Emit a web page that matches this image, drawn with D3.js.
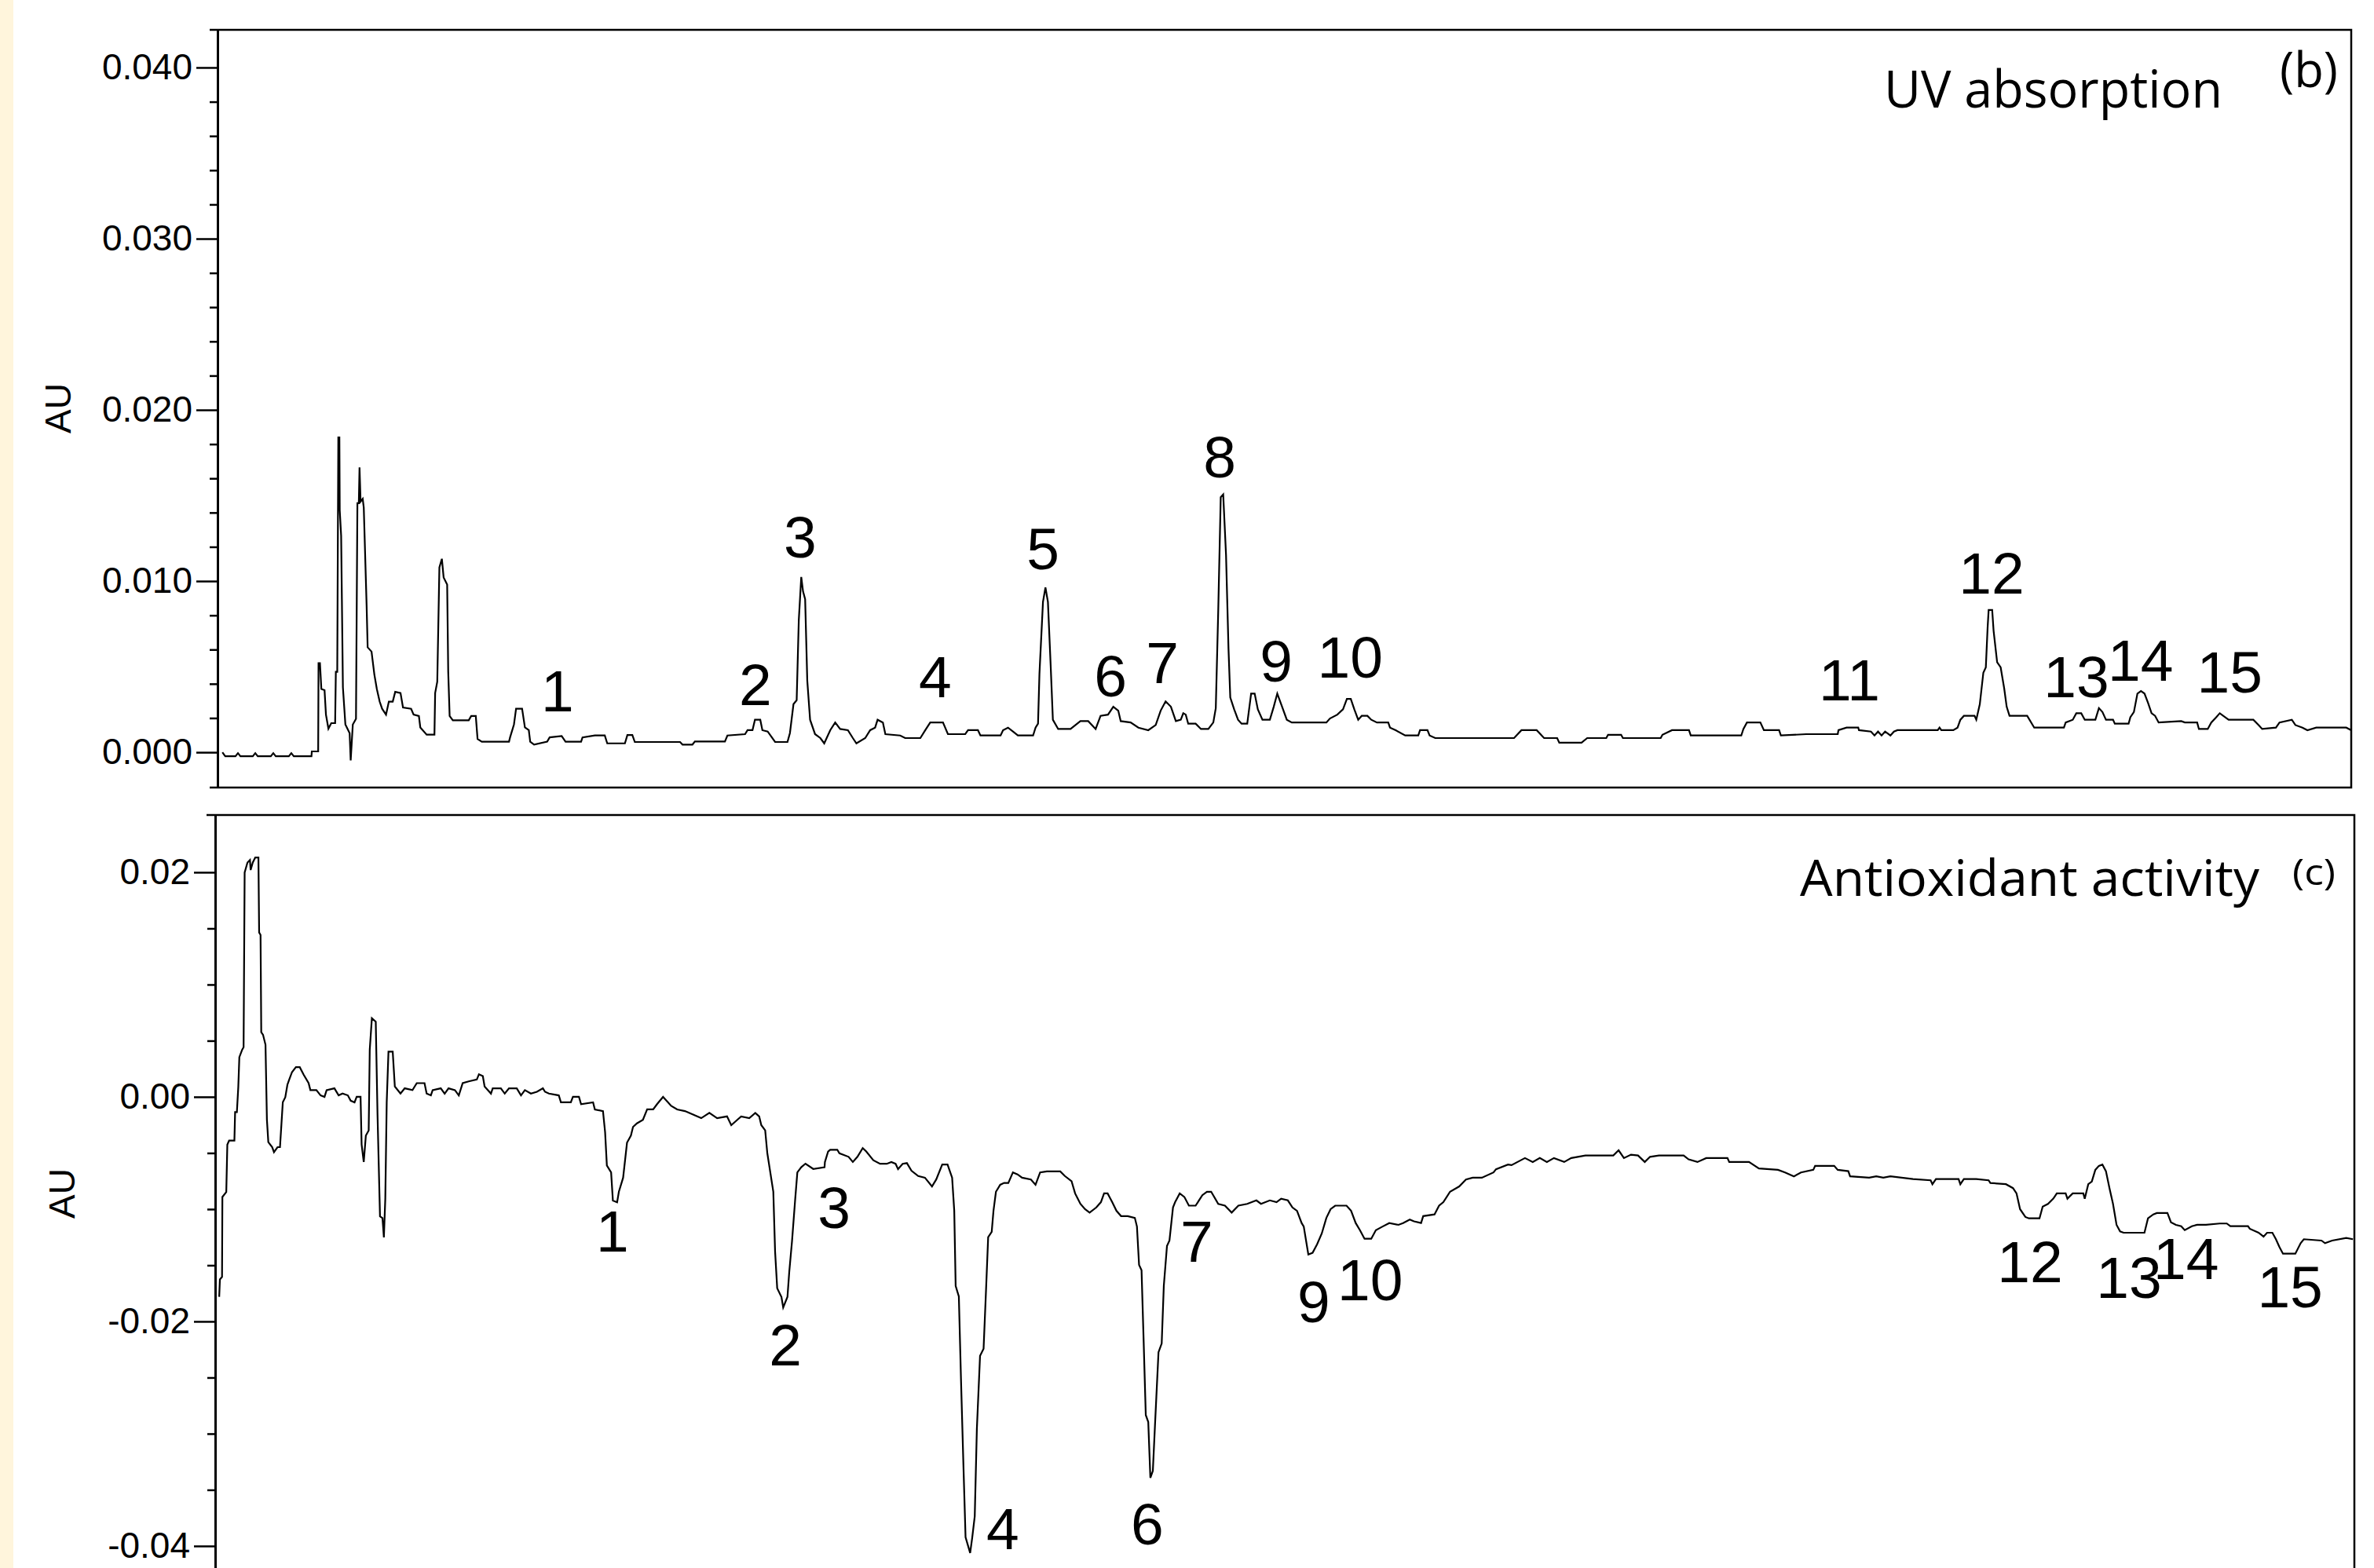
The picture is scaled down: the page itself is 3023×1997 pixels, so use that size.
<!DOCTYPE html>
<html>
<head>
<meta charset="utf-8">
<script src="https://cdn.jsdelivr.net/npm/d3@7"></script>
<style>
  body { margin: 0; background: #fff; }
  svg { display: block; }
</style>
</head>
<body>
<div id="chart"></div>
<script>
/* global d3 */

// retention time (min), absorbance (AU)
const uvTrace = [
  [0.16,0.0000],[0.24,-0.00023],[0.53,-0.00023],[0.60,-0.00005],[0.67,-0.00023],[1.02,-0.00023],[1.09,-0.00005],[1.16,-0.00023],
  [1.53,-0.00023],[1.60,-0.00005],[1.67,-0.00023],[2.04,-0.00023],[2.11,-0.00005],[2.18,-0.00023],[2.68,-0.00023],[2.69,0.00005],
  [2.87,0.00005],[2.88,0.00521],[2.92,0.00521],[2.96,0.00370],[3.05,0.00363],[3.09,0.00220],[3.16,0.00138],[3.24,0.00170],
  [3.35,0.00170],[3.37,0.00470],[3.41,0.00470],[3.44,0.01839],[3.47,0.01839],[3.48,0.01414],[3.52,0.01264],[3.57,0.00379],
  [3.64,0.00162],[3.76,0.00112],[3.79,-0.00047],[3.85,0.00162],[3.94,0.00195],[3.98,0.01455],[4.02,0.01455],[4.04,0.01664],
  [4.07,0.01464],[4.13,0.01480],[4.16,0.01430],[4.24,0.00863],[4.27,0.00613],[4.38,0.00588],[4.46,0.00454],[4.53,0.00370],
  [4.61,0.00296],[4.68,0.00254],[4.79,0.00220],[4.87,0.00296],[4.98,0.00296],[5.05,0.00353],[5.20,0.00346],[5.27,0.00262],
  [5.50,0.00254],[5.57,0.00220],[5.72,0.00212],[5.76,0.00145],[5.94,0.00103],[6.16,0.00103],[6.18,0.00346],[6.24,0.00412],
  [6.30,0.01080],[6.37,0.01130],[6.42,0.01021],[6.52,0.00980],[6.55,0.00470],[6.59,0.00212],[6.68,0.00187],[7.13,0.00187],
  [7.20,0.00212],[7.33,0.00212],[7.38,0.00078],[7.50,0.00062],[8.27,0.00062],[8.30,0.00087],[8.41,0.00162],[8.47,0.00254],
  [8.64,0.00254],[8.72,0.00145],[8.83,0.00129],[8.87,0.00062],[8.98,0.00045],[9.35,0.00062],[9.42,0.00087],[9.76,0.00095],
  [9.87,0.00062],[10.31,0.00062],[10.35,0.00087],[10.70,0.00098],[10.98,0.00098],[11.05,0.00052],[11.55,0.00052],[11.62,0.00101],
  [11.76,0.00101],[11.83,0.00060],[13.11,0.00060],[13.18,0.00045],[13.46,0.00045],[13.53,0.00063],[14.38,0.00063],[14.45,0.00098],
  [14.95,0.00106],[15.02,0.00129],[15.16,0.00129],[15.23,0.00190],[15.38,0.00190],[15.44,0.00129],[15.59,0.00121],[15.80,0.00060],
  [16.15,0.00060],[16.22,0.00113],[16.32,0.00281],[16.41,0.00304],[16.47,0.00771],[16.54,0.01024],[16.59,0.00940],[16.65,0.00894],
  [16.71,0.00419],[16.79,0.00190],[16.93,0.00106],[17.08,0.00083],[17.19,0.00052],[17.36,0.00129],[17.50,0.00174],[17.64,0.00136],
  [17.86,0.00129],[18.00,0.00083],[18.10,0.00052],[18.35,0.00083],[18.49,0.00129],[18.63,0.00144],[18.70,0.00190],[18.85,0.00174],
  [18.92,0.00106],[19.34,0.00098],[19.48,0.00083],[19.91,0.00083],[20.05,0.00129],[20.19,0.00174],[20.55,0.00174],[20.69,0.00106],
  [21.18,0.00106],[21.26,0.00129],[21.54,0.00129],[21.61,0.00098],[22.18,0.00098],[22.25,0.00129],[22.39,0.00144],[22.53,0.00121],
  [22.67,0.00098],[23.10,0.00098],[23.17,0.00144],[23.24,0.00167],[23.28,0.00458],[23.38,0.00878],[23.45,0.00963],[23.52,0.00878],
  [23.60,0.00496],[23.66,0.00190],[23.81,0.00136],[24.16,0.00136],[24.30,0.00159],[24.44,0.00182],[24.66,0.00182],[24.87,0.00136],
  [25.01,0.00213],[25.22,0.00220],[25.37,0.00266],[25.51,0.00243],[25.58,0.00182],[25.86,0.00174],[26.08,0.00144],[26.36,0.00129],
  [26.57,0.00159],[26.71,0.00243],[26.85,0.00297],[27.00,0.00266],[27.14,0.00182],[27.28,0.00190],[27.35,0.00228],[27.42,0.00220],
  [27.49,0.00167],[27.70,0.00167],[27.85,0.00136],[28.06,0.00136],[28.20,0.00174],[28.27,0.00258],[28.34,0.00832],[28.41,0.01490],
  [28.48,0.01506],[28.56,0.01153],[28.63,0.00603],[28.68,0.00320],[28.79,0.00251],[28.90,0.00190],[29.00,0.00167],[29.16,0.00167],
  [29.27,0.00343],[29.37,0.00343],[29.46,0.00251],[29.59,0.00190],[29.80,0.00190],[29.91,0.00266],[30.01,0.00343],[30.12,0.00281],
  [30.28,0.00190],[30.42,0.00174],[31.40,0.00174],[31.50,0.00197],[31.71,0.00220],[31.87,0.00251],[31.98,0.00312],[32.09,0.00312],
  [32.19,0.00251],[32.30,0.00190],[32.40,0.00213],[32.56,0.00213],[32.67,0.00190],[32.83,0.00174],[33.15,0.00174],[33.20,0.00144],
  [33.36,0.00129],[33.63,0.00098],[34.00,0.00098],[34.05,0.00129],[34.26,0.00129],[34.32,0.00098],[34.48,0.00083],[36.71,0.00083],
  [36.92,0.00129],[37.35,0.00129],[37.56,0.00083],[37.93,0.00083],[37.99,0.00056],[38.62,0.00056],[38.78,0.00083],[39.32,0.00083],
  [39.37,0.00102],[39.74,0.00102],[39.79,0.00083],[40.86,0.00083],[40.91,0.00102],[41.18,0.00129],[41.66,0.00129],[41.71,0.00098],
  [43.14,0.00098],[43.20,0.00136],[43.30,0.00174],[43.68,0.00174],[43.78,0.00129],[44.21,0.00129],[44.26,0.00098],[44.98,0.00106],
  [45.87,0.00106],[45.89,0.00129],[46.12,0.00144],[46.45,0.00144],[46.47,0.00129],[46.81,0.00121],[46.91,0.00098],[47.01,0.00121],
  [47.11,0.00098],[47.21,0.00121],[47.36,0.00098],[47.46,0.00121],[47.56,0.00129],[48.70,0.00129],[48.75,0.00144],[48.80,0.00129],
  [49.14,0.00129],[49.26,0.00144],[49.34,0.00190],[49.44,0.00213],[49.74,0.00213],[49.79,0.00190],[49.84,0.00235],[49.89,0.00281],
  [49.99,0.00465],[50.06,0.00496],[50.11,0.00725],[50.14,0.00831],[50.24,0.00831],[50.28,0.00710],[50.38,0.00526],[50.48,0.00496],
  [50.58,0.00373],[50.65,0.00266],[50.73,0.00213],[51.23,0.00213],[51.43,0.00144],[52.27,0.00144],[52.32,0.00174],[52.52,0.00190],
  [52.62,0.00228],[52.76,0.00228],[52.86,0.00190],[53.16,0.00190],[53.26,0.00258],[53.36,0.00235],[53.46,0.00190],[53.66,0.00190],
  [53.71,0.00167],[54.10,0.00167],[54.15,0.00205],[54.25,0.00235],[54.35,0.00343],[54.45,0.00358],[54.55,0.00343],[54.65,0.00289],
  [54.75,0.00228],[54.85,0.00213],[54.95,0.00174],[55.59,0.00182],[55.69,0.00174],[56.04,0.00174],[56.09,0.00136],[56.34,0.00136],
  [56.44,0.00174],[56.58,0.00205],[56.68,0.00228],[56.83,0.00205],[56.93,0.00190],[57.63,0.00190],[57.78,0.00159],[57.88,0.00136],
  [58.27,0.00144],[58.37,0.00174],[58.72,0.00190],[58.82,0.00159],[59.02,0.00144],[59.16,0.00129],[59.41,0.00144],[60.26,0.00144],
  [60.40,0.00129]
];

// retention time (min), signal (AU)
const aoTrace = [
  [0.07,-0.01781],[0.09,-0.01626],[0.15,-0.01604],[0.16,-0.00892],[0.27,-0.00848],[0.30,-0.00425],[0.35,-0.00390],[0.50,-0.00390],
  [0.52,-0.00136],[0.57,-0.00136],[0.61,0.00086],[0.64,0.00353],[0.72,0.00420],[0.76,0.00442],[0.79,0.01998],[0.87,0.02087],
  [0.94,0.02109],[0.96,0.02020],[1.02,0.02087],[1.09,0.02131],[1.18,0.02131],[1.20,0.01464],[1.24,0.01442],[1.26,0.00576],
  [1.31,0.00553],[1.38,0.00464],[1.42,-0.00203],[1.46,-0.00403],[1.57,-0.00448],[1.62,-0.00492],[1.72,-0.00448],[1.79,-0.00448],
  [1.83,-0.00248],[1.87,-0.00048],[1.94,-0.00003],[2.00,0.00108],[2.05,0.00153],[2.13,0.00220],[2.24,0.00264],[2.35,0.00264],
  [2.46,0.00197],[2.60,0.00122],[2.65,0.00060],[2.82,0.00060],[2.94,0.00013],[3.05,0.00000],[3.11,0.00060],[3.33,0.00076],
  [3.45,0.00013],[3.56,0.00029],[3.71,0.00013],[3.79,-0.00034],[3.90,-0.00049],[3.96,0.00000],[4.07,0.00000],[4.10,-0.00424],
  [4.16,-0.00580],[4.22,-0.00345],[4.30,-0.00299],[4.33,0.00419],[4.39,0.00700],[4.50,0.00669],[4.55,-0.00158],[4.62,-0.01064],
  [4.69,-0.01079],[4.73,-0.01251],[4.77,-0.00908],[4.81,-0.00049],[4.86,0.00403],[4.98,0.00403],[5.04,0.00092],[5.20,0.00029],
  [5.32,0.00076],[5.54,0.00060],[5.66,0.00122],[5.88,0.00122],[5.94,0.00029],[6.06,0.00013],[6.11,0.00060],[6.34,0.00076],
  [6.45,0.00029],[6.56,0.00076],[6.74,0.00060],[6.85,0.00013],[6.96,0.00122],[7.13,0.00138],[7.36,0.00154],[7.42,0.00201],
  [7.53,0.00185],[7.58,0.00092],[7.76,0.00029],[7.81,0.00076],[8.04,0.00076],[8.15,0.00029],[8.27,0.00076],[8.49,0.00076],
  [8.61,0.00013],[8.72,0.00060],[8.89,0.00029],[9.06,0.00045],[9.23,0.00076],[9.29,0.00045],[9.40,0.00029],[9.68,0.00013],
  [9.74,-0.00049],[10.02,-0.00049],[10.08,0.00000],[10.25,0.00000],[10.31,-0.00065],[10.65,-0.00049],[10.70,-0.00112],[10.93,-0.00127],
  [10.99,-0.00315],[11.04,-0.00611],[11.16,-0.00673],[11.21,-0.00923],[11.33,-0.00939],[11.38,-0.00845],[11.50,-0.00720],[11.61,-0.00408],
  [11.72,-0.00345],[11.78,-0.00268],[11.89,-0.00236],[12.06,-0.00205],[12.18,-0.00112],[12.35,-0.00112],[12.46,-0.00065],[12.63,0.00000],
  [12.86,-0.00080],[13.03,-0.00112],[13.25,-0.00127],[13.48,-0.00158],[13.71,-0.00190],[13.94,-0.00143],[14.16,-0.00190],[14.44,-0.00174],
  [14.56,-0.00252],[14.73,-0.00205],[14.84,-0.00174],[15.07,-0.00190],[15.24,-0.00143],[15.35,-0.00174],[15.41,-0.00252],[15.52,-0.00299],
  [15.58,-0.00502],[15.75,-0.00845],[15.80,-0.01376],[15.86,-0.01704],[15.98,-0.01782],[16.03,-0.01876],[16.15,-0.01782],[16.20,-0.01563],
  [16.28,-0.01283],[16.37,-0.00908],[16.43,-0.00673],[16.54,-0.00627],[16.66,-0.00595],[16.88,-0.00642],[17.20,-0.00627],[17.21,-0.00580],
  [17.30,-0.00487],[17.36,-0.00471],[17.56,-0.00471],[17.62,-0.00503],[17.88,-0.00534],[18.00,-0.00580],[18.13,-0.00534],[18.28,-0.00456],
  [18.38,-0.00487],[18.58,-0.00565],[18.77,-0.00596],[18.96,-0.00596],[19.09,-0.00580],[19.21,-0.00596],[19.28,-0.00643],[19.41,-0.00596],
  [19.53,-0.00590],[19.66,-0.00658],[19.85,-0.00705],[20.04,-0.00720],[20.24,-0.00798],[20.36,-0.00736],[20.53,-0.00602],[20.68,-0.00602],
  [20.81,-0.00720],[20.87,-0.01015],[20.91,-0.01684],[21.00,-0.01777],[21.06,-0.02508],[21.13,-0.03285],[21.19,-0.03922],[21.32,-0.04062],
  [21.38,-0.03922],[21.45,-0.03735],[21.51,-0.02958],[21.60,-0.02306],[21.70,-0.02243],[21.77,-0.01715],[21.83,-0.01249],[21.93,-0.01202],
  [21.98,-0.01015],[22.05,-0.00845],[22.17,-0.00783],[22.28,-0.00767],[22.40,-0.00767],[22.53,-0.00673],[22.66,-0.00690],[22.79,-0.00720],
  [23.04,-0.00736],[23.17,-0.00783],[23.30,-0.00673],[23.49,-0.00664],[23.87,-0.00664],[24.00,-0.00705],[24.19,-0.00751],[24.29,-0.00860],
  [24.44,-0.00953],[24.57,-0.01000],[24.70,-0.01031],[24.89,-0.00985],[25.02,-0.00938],[25.11,-0.00860],[25.21,-0.00860],[25.34,-0.00938],
  [25.46,-0.01015],[25.59,-0.01062],[25.78,-0.01062],[25.98,-0.01078],[26.04,-0.01155],[26.10,-0.01497],[26.17,-0.01544],[26.23,-0.02181],
  [26.29,-0.02834],[26.36,-0.02896],[26.42,-0.03393],[26.49,-0.03331],[26.55,-0.02927],[26.65,-0.02274],[26.74,-0.02197],[26.80,-0.01684],
  [26.89,-0.01327],[26.96,-0.01280],[27.06,-0.00985],[27.12,-0.00938],[27.25,-0.00860],[27.38,-0.00891],[27.51,-0.00969],[27.70,-0.00969],
  [27.89,-0.00876],[28.02,-0.00845],[28.14,-0.00845],[28.34,-0.00953],[28.53,-0.00969],[28.72,-0.01031],[28.91,-0.00969],[29.16,-0.00953],
  [29.42,-0.00922],[29.55,-0.00953],[29.80,-0.00922],[29.99,-0.00938],[30.12,-0.00907],[30.31,-0.00922],[30.44,-0.00985],[30.57,-0.01015],
  [30.70,-0.01124],[30.76,-0.01155],[30.89,-0.01404],[31.01,-0.01389],[31.14,-0.01311],[31.27,-0.01217],[31.40,-0.01078],[31.52,-0.01000],
  [31.65,-0.00969],[31.97,-0.00969],[32.10,-0.01015],[32.23,-0.01124],[32.35,-0.01187],[32.48,-0.01264],[32.67,-0.01264],[32.80,-0.01187],
  [32.99,-0.01155],[33.18,-0.01124],[33.44,-0.01140],[33.57,-0.01124],[33.76,-0.01093],[33.88,-0.01109],[34.08,-0.01124],[34.14,-0.01062],
  [34.46,-0.01047],[34.59,-0.00969],[34.71,-0.00938],[34.90,-0.00845],[35.16,-0.00798],[35.35,-0.00736],[35.54,-0.00720],[35.80,-0.00720],
  [36.13,-0.00673],[36.20,-0.00645],[36.54,-0.00603],[36.64,-0.00608],[37.02,-0.00545],[37.24,-0.00580],[37.44,-0.00545],[37.64,-0.00580],
  [37.84,-0.00545],[38.13,-0.00580],[38.33,-0.00545],[38.73,-0.00522],[39.52,-0.00522],[39.67,-0.00476],[39.82,-0.00545],[40.02,-0.00515],
  [40.22,-0.00522],[40.41,-0.00580],[40.56,-0.00534],[40.81,-0.00522],[41.51,-0.00522],[41.65,-0.00557],[41.90,-0.00580],[42.15,-0.00545],
  [42.75,-0.00545],[42.80,-0.00580],[43.36,-0.00580],[43.64,-0.00638],[44.18,-0.00650],[44.38,-0.00673],[44.63,-0.00708],[44.83,-0.00673],
  [45.18,-0.00650],[45.23,-0.00615],[45.77,-0.00615],[45.87,-0.00650],[46.17,-0.00662],[46.22,-0.00708],[46.76,-0.00720],[46.96,-0.00708],
  [47.16,-0.00720],[47.36,-0.00708],[48.00,-0.00732],[48.50,-0.00743],[48.55,-0.00778],[48.65,-0.00732],[49.29,-0.00732],[49.34,-0.00778],
  [49.44,-0.00732],[49.79,-0.00732],[50.14,-0.00743],[50.19,-0.00767],[50.63,-0.00778],[50.83,-0.00813],[50.93,-0.00860],[51.03,-0.01000],
  [51.18,-0.01070],[51.28,-0.01082],[51.58,-0.01082],[51.67,-0.00977],[51.82,-0.00953],[51.97,-0.00907],[52.07,-0.00860],[52.32,-0.00860],
  [52.37,-0.00907],[52.52,-0.00860],[52.82,-0.00860],[52.86,-0.00907],[52.96,-0.00778],[53.06,-0.00755],[53.16,-0.00650],[53.26,-0.00615],
  [53.36,-0.00603],[53.46,-0.00662],[53.56,-0.00813],[53.66,-0.00953],[53.76,-0.01140],[53.86,-0.01198],[53.96,-0.01210],[54.55,-0.01210],
  [54.65,-0.01082],[54.80,-0.01047],[54.90,-0.01035],[55.20,-0.01035],[55.30,-0.01117],[55.44,-0.01140],[55.59,-0.01152],[55.69,-0.01187],
  [55.89,-0.01152],[56.04,-0.01140],[56.29,-0.01140],[56.68,-0.01128],[56.88,-0.01128],[56.98,-0.01152],[57.48,-0.01152],[57.53,-0.01175],
  [57.78,-0.01210],[57.92,-0.01245],[58.02,-0.01210],[58.17,-0.01210],[58.27,-0.01268],[58.37,-0.01338],[58.47,-0.01397],[58.82,-0.01397],
  [58.97,-0.01303],[59.06,-0.01268],[59.56,-0.01280],[59.66,-0.01303],[59.86,-0.01280],[60.26,-0.01257],[60.45,-0.01268]
];

const uvMajorTicks = [0, 0.01, 0.02, 0.03, 0.04];
const uvMinorTicks = [0.002, 0.004, 0.006, 0.008, 0.012, 0.014, 0.016, 0.018,
                      0.022, 0.024, 0.026, 0.028, 0.032, 0.034, 0.036, 0.038];
const aoMajorTicks = [0.02, 0, -0.02, -0.04];
const aoMinorTicks = [0.015, 0.01, 0.005, -0.005, -0.01, -0.015, -0.025, -0.03, -0.035];

// peak numbers and where they sit (time, AU of the text baseline)
const uvPeakNames = ["1","2","3","4","5","6","7","8","9","10","11","12","13","14","15"];
const uvPeakTime  = [9.64, 15.24, 16.51, 20.33, 23.38, 25.29, 26.76, 28.38, 29.98, 32.07, 46.20, 50.22, 52.62, 54.44, 56.96];
const uvPeakAU    = [0.00239, 0.00275, 0.01138, 0.00321, 0.01069, 0.00326, 0.00404, 0.01606, 0.00413, 0.00436, 0.00303, 0.00927, 0.00321, 0.00417, 0.00349];

const aoPeakNames = ["1","2","3","4","6","7","9","10","12","13","14","15"];
const aoPeakTime  = [11.20, 16.09, 17.47, 22.24, 26.33, 27.73, 31.04, 32.64, 51.31, 54.11, 55.73, 58.67];
const aoPeakAU    = [-0.01378, -0.02392, -0.01168, -0.04028, -0.03986, -0.01469, -0.02007, -0.01811, -0.01650, -0.01790, -0.01622, -0.01874];

// Layout //

let SVGwidth = 3023,
    SVGheight = 1997;

let svg = d3.select("#chart").append("svg")
    .attr("width", SVGwidth)
    .attr("height", SVGheight)
    .attr("viewBox", "0 0 " + SVGwidth + " " + SVGheight);

svg.append("rect")
    .attr("width", SVGwidth)
    .attr("height", SVGheight)
    .attr("fill", "#ffffff");

// cream strip on the left edge
svg.append("rect")
    .attr("x", 0).attr("y", 0)
    .attr("width", 17).attr("height", SVGheight)
    .attr("fill", "#fff5dc");

let tickFont = "'Liberation Sans', Arial, sans-serif";
let titleFont = "'Open Sans', 'Noto Sans', sans-serif";

let panels = [
    {
        left: 277, right: 2994, top: 38, bottom: 1003, frameLeft: 267, closed: true,
        tDomain: [0.022, 60.4], yDomain: [-0.00206, 0.0422],
        trace: uvTrace, major: uvMajorTicks, minor: uvMinorTicks,
        fmt: function(d) { return d.toFixed(3); },
        names: uvPeakNames, times: uvPeakTime, aus: uvPeakAU,
        auLabel: [74, 520],
        title: {text: "UV absorption", dx: -595, dy: 99, size: 66, len: 431},
        tag: {text: "(b)", dx: -91, dy: 73, size: 62, len: 74}
    },
    {
        left: 274, right: 2998, top: 1038, bottom: 2010, frameLeft: 263, closed: false,
        tDomain: [-0.044, 60.49], yDomain: [-0.04287, 0.0251],
        trace: aoTrace, major: aoMajorTicks, minor: aoMinorTicks,
        fmt: function(d) { return d.toFixed(2); },
        names: aoPeakNames, times: aoPeakTime, aus: aoPeakAU,
        auLabel: [79, 1520],
        title: {text: "Antioxidant activity", dx: -706, dy: 103, size: 64, len: 585},
        tag: {text: "(c)", dx: -79, dy: 89, size: 46, len: 55}
    }
];

function drawPanel(p) {
    let g = svg.append("g");

    let x = d3.scaleLinear().domain(p.tDomain).range([p.left, p.right]);
    let y = d3.scaleLinear().domain(p.yDomain).range([p.bottom, p.top]);

    // frame (top, right and, for the upper panel, bottom)
    let framePath = "M" + p.frameLeft + "," + p.top + "H" + p.right + "V" + p.bottom;
    if (p.closed) {
        framePath += "H" + p.frameLeft;
    }
    g.append("path")
        .attr("d", framePath)
        .attr("fill", "none")
        .attr("stroke", "#000")
        .attr("stroke-width", 2.5);

    // minor ticks
    let minorAxis = d3.axisLeft(y)
        .tickValues(p.minor)
        .tickSize(10)
        .tickSizeOuter(0)
        .tickFormat("");
    let gMinor = g.append("g")
        .attr("transform", "translate(" + p.left + ",0)")
        .call(minorAxis);
    gMinor.select(".domain").remove();
    gMinor.selectAll(".tick line").attr("stroke", "#000").attr("stroke-width", 2.5);

    // major ticks + axis line
    let yAxis = d3.axisLeft(y)
        .tickValues(p.major)
        .tickSize(27)
        .tickSizeOuter(0)
        .tickPadding(5)
        .tickFormat(p.fmt);
    let gAxis = g.append("g")
        .attr("transform", "translate(" + p.left + ",0)")
        .call(yAxis);
    gAxis.select(".domain").attr("stroke", "#000").attr("stroke-width", 3);
    gAxis.selectAll(".tick line").attr("stroke", "#000").attr("stroke-width", 2.5);
    gAxis.selectAll(".tick text")
        .attr("fill", "#000")
        .style("font-family", tickFont)
        .style("font-size", "46px");

    // AU label
    g.append("text")
        .attr("transform", "translate(" + p.auLabel[0] + "," + p.auLabel[1] + ") rotate(-90)")
        .attr("text-anchor", "middle")
        .attr("dominant-baseline", "central")
        .style("font-family", tickFont)
        .style("font-size", "46px")
        .text("AU");

    // trace
    let line = d3.line()
        .x(function(d) { return x(d[0]); })
        .y(function(d) { return y(d[1]); });

    g.append("path")
        .datum(p.trace)
        .attr("d", line)
        .attr("fill", "none")
        .attr("stroke", "#000")
        .attr("stroke-width", 2.2)
        .attr("stroke-linejoin", "miter");

    // peak numbers
    g.selectAll(".peak")
        .data(p.names)
        .enter().append("text")
        .attr("class", "peak")
        .attr("x", function(d, i) { return x(p.times[i]); })
        .attr("y", function(d, i) { return y(p.aus[i]); })
        .attr("text-anchor", "middle")
        .style("font-family", tickFont)
        .style("font-size", "75px")
        .attr("fill", "#000")
        .text(function(d) { return d; });

    // title and panel tag
    [p.title, p.tag].forEach(function(t) {
        g.append("text")
            .attr("x", p.right + t.dx)
            .attr("y", p.top + t.dy)
            .attr("textLength", t.len)
            .attr("lengthAdjust", "spacingAndGlyphs")
            .style("font-family", titleFont)
            .style("font-size", t.size + "px")
            .attr("fill", "#000")
            .text(t.text);
    });
}

panels.forEach(drawPanel);
</script>
</body>
</html>
